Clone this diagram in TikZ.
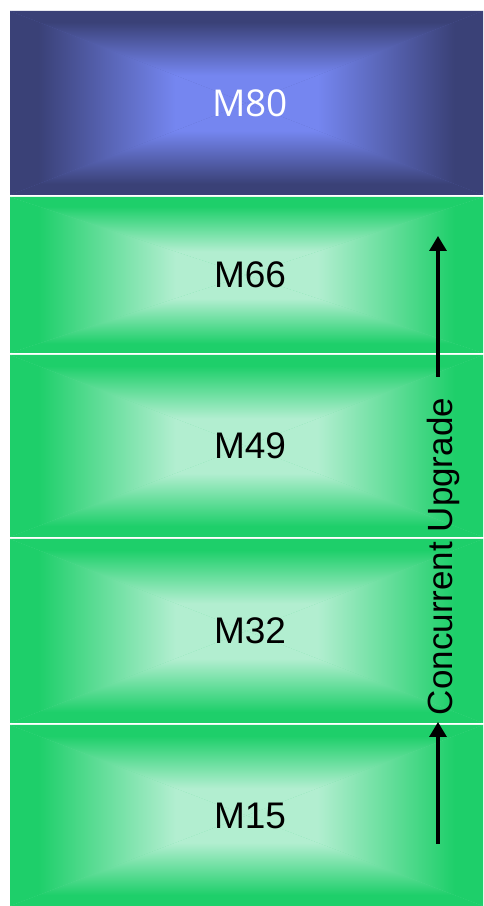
\documentclass[tikz,border=0pt]{standalone}
\usepackage{fontspec}
\setmainfont{Liberation Sans}
\newfontfamily\headfont{Open Sans}
\usetikzlibrary{arrows.meta}

% colours of the two box families
\definecolor{bEdge}{RGB}{58,65,119}
\definecolor{bCtr}{RGB}{117,134,240}
\definecolor{bMid}{RGB}{88,100,180}
\definecolor{gEdge}{RGB}{30,207,106}
\definecolor{gCtr}{RGB}{178,238,208}
\definecolor{gMid}{RGB}{104,222,157}

% ramps from the centre (bottom) to the edge (top); the inner 25bp..75bp span the path
\pgfdeclareverticalshading{blueramp}{100bp}{color(0bp)=(bCtr); color(40bp)=(bCtr); color(69bp)=(bEdge); color(100bp)=(bEdge)}
\pgfdeclareverticalshading{greenramp}{100bp}{color(0bp)=(gCtr); color(40bp)=(gCtr); color(69bp)=(gEdge); color(100bp)=(gEdge)}

% rectangle with a gradient running from its centre out to all four sides
% #1,#2 lower left corner; #3,#4 upper right corner; #5 ramp; #6 base colour
\newcommand\rampbox[6]{%
  \pgfmathsetmacro\rcx{(#1+#3)/2}%
  \pgfmathsetmacro\rcy{(#2+#4)/2}%
  \fill[#6] (#1,#2) rectangle (#3,#4);
  \shade[shading=#5] (#1,#4) -- (#3,#4) -- (\rcx,\rcy) -- cycle;
  \shade[shading=#5, shading angle=180] (#1,#2) -- (#3,#2) -- (\rcx,\rcy) -- cycle;
  \shade[shading=#5, shading angle=90] (#1,#2) -- (#1,#4) -- (\rcx,\rcy) -- cycle;
  \shade[shading=#5, shading angle=-90] (#3,#2) -- (#3,#4) -- (\rcx,\rcy) -- cycle;
}

\tikzset{
  darklabel/.style={font=\fontsize{37}{40}\selectfont, text=black, inner sep=0pt},
  lightlabel/.style={font=\headfont\fontsize{37}{40}\selectfont, text=white, inner sep=0pt},
  sidelabel/.style={font=\fontsize{35}{38}\selectfont, text=black, inner sep=0pt, rotate=90, anchor=base},
  upgrade/.style={line width=3.2pt, -{Triangle[width=17pt,length=15pt]}}
}

\begin{document}
\begin{tikzpicture}[x=1pt,y=1pt]
\useasboundingbox (0,0) rectangle (483,906);

% stacked boxes
\rampbox{10}{711}{483}{895}{blueramp}{bMid}
\rampbox{10}{553}{483}{709}{greenramp}{gMid}
\rampbox{10}{369}{483}{551}{greenramp}{gMid}
\rampbox{10}{183}{483}{367}{greenramp}{gMid}
\rampbox{10}{0}{483}{181}{greenramp}{gMid}

% box labels
\node[lightlabel] (m80) at (250,803) {M80};
\node[darklabel] (m66) at (250,631) {M66};
\node[darklabel] (m49) at (250,460) {M49};
\node[darklabel] (m32) at (250,275) {M32};
\node[darklabel] (m15) at (250,90.5) {M15};

% side caption with its two arrows
\node[sidelabel] (cu) at (452,349.5) {Concurrent Upgrade};
\coordinate (upA) at (438,529);
\coordinate (upB) at (438,670);
\coordinate (loA) at (438,62);
\coordinate (loB) at (438,184);
\draw[upgrade] (upA) -- (upB);
\draw[upgrade] (loA) -- (loB);
\end{tikzpicture}
\end{document}
